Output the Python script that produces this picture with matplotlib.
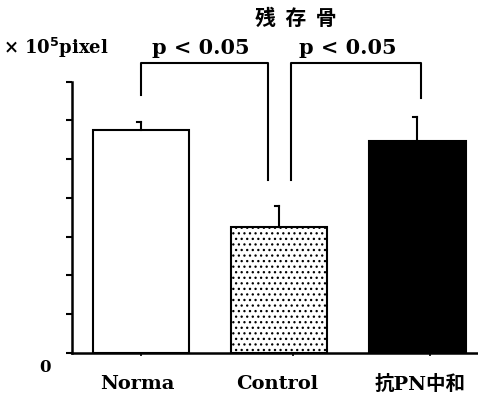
import matplotlib
matplotlib.use("Agg")
import matplotlib.pyplot as plt
import numpy as np

plt.rcParams['font.family'] = ['DejaVu Serif', 'Noto Sans CJK JP']
plt.rcParams['font.weight'] = 'bold'
plt.rcParams['hatch.color'] = '#444444'
plt.rcParams['hatch.linewidth'] = 0.9

categories = ["Norma", "Control", "抗PN中和"]
values = [5.75, 3.25, 5.47]
errors = [0.21, 0.54, 0.62]
title = "残  存  骨"
unit_label = "× 10$^5$pixel"
sig_text = "p < 0.05"

fig = plt.figure(figsize=(4.78, 4.0), dpi=100)
ax = fig.add_axes([72/478, 1-353/400, 1-72/478, (353-81.7)/400])

x = np.arange(len(categories))
fills = ['white', 'white', 'black']
hatches = [None, '...', None]
for i in range(len(categories)):
    ax.bar(x[i], values[i], width=0.70, color=fills[i], edgecolor='black',
           linewidth=1.5, hatch=hatches[i], zorder=2)
    ax.plot([x[i], x[i]], [values[i], values[i] + errors[i]], color='black', lw=1.5, zorder=3)
    ax.plot([x[i] - 0.03, x[i]], [values[i] + errors[i]] * 2, color='black', lw=1.5, zorder=3)

ax.set_xlim(-0.5, 2.44)
ax.set_ylim(0, 7)
ax.set_yticks(np.arange(0, 8))
ax.set_yticklabels([])
ax.set_xticks(x + np.array([0.0, 0.1, 0.09]))
ax.set_xticklabels([])
ax.tick_params(axis='y', direction='out', length=4, width=1.5)
ax.tick_params(axis='x', direction='out', length=2, width=1.2)
for s in ['top', 'right']:
    ax.spines[s].set_visible(False)
for s in ['left', 'bottom']:
    ax.spines[s].set_linewidth(1.8)

# significance brackets
top = 7.48
def bracket(x0, y0, x1, y1):
    ax.plot([x0, x0, x1, x1], [y0, top, top, y1], color='black', lw=1.5, clip_on=False)
bracket(0.0, 6.66, 0.92, 4.46)
bracket(1.087, 4.46, 2.03, 6.58)
ax.text(0.43, 7.6, sig_text, ha='center', va='bottom', fontsize=15, fontweight='bold', clip_on=False)
ax.text(1.5, 7.6, sig_text, ha='center', va='bottom', fontsize=15, fontweight='bold', clip_on=False)

# labels in figure pixel coords
def ftext(px, py, s, **kw):
    fig.text(px/478, 1-py/400, s, **kw)

ftext(296, 18, title, ha='center', va='center', fontsize=15, fontweight='bold',
      family=['Noto Sans CJK JP'])
ftext(3, 48, unit_label, ha='left', va='center', fontsize=13, fontweight='bold')
ftext(45, 368, "0", ha='center', va='center', fontsize=12, fontweight='bold')
label_x = [137, 277, 420]
for lx, lab in zip(label_x, categories):
    ftext(lx, 384, lab, ha='center', va='center', fontsize=14, fontweight='bold')

fig.savefig("out.png", dpi=100)
